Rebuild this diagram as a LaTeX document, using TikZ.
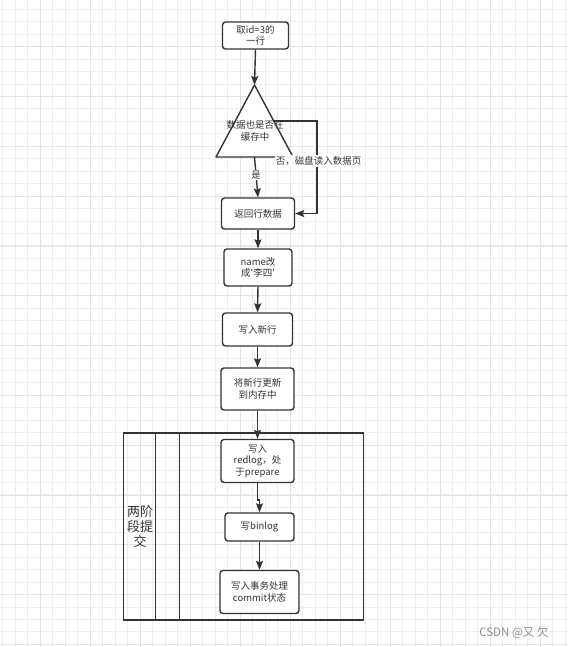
\documentclass[tikz,border=0pt]{standalone}
\usepackage{fontspec}
\setmainfont{Noto Sans CJK SC}
\setsansfont{Noto Sans CJK SC}
\newfontfamily\qfont[Ligatures=TeXOff]{Noto Sans CJK SC}
\usetikzlibrary{arrows.meta}
\definecolor{ink}{HTML}{333333}
\definecolor{gridminor}{HTML}{EEEEEE}
\definecolor{gridmajor}{HTML}{E4E4E4}
\tikzset{
  stepbox/.style={draw=ink, line width=1.4pt, rounded corners=3pt, fill=white, text=ink,
    font=\fontsize{9.5}{11.5}\selectfont, align=center, inner sep=0pt},
  flow/.style={draw=ink, line width=1.4pt, -{Stealth[length=9pt,width=7pt,inset=1.5pt]}},
  lane/.style={draw=ink, line width=1.4pt},
  lbl/.style={fill=white, text=ink, font=\fontsize{9.5}{11.5}\selectfont, inner sep=1pt}
}
\begin{document}
\begin{tikzpicture}[x=1pt,y=-1pt]
\useasboundingbox (0,0) rectangle (568,647);
\fill[white] (0,0) rectangle (568,647);
% grid
\foreach \i in {0,...,45} {
  \pgfmathsetmacro{\xx}{2.7+12.5*\i}
  \draw[gridminor, line width=0.8pt] (\xx,0) -- (\xx,647);
}
\foreach \j in {0,...,51} {
  \pgfmathsetmacro{\yy}{9.3+12.45*\j}
  \draw[gridminor, line width=0.8pt] (0,\yy) -- (568,\yy);
}
\foreach \i in {0,...,11} {
  \pgfmathsetmacro{\xx}{40+50*\i}
  \draw[gridmajor, line width=0.8pt] (\xx,0) -- (\xx,647);
}
\foreach \j in {0,...,12} {
  \pgfmathsetmacro{\yy}{46.7+49.8*\j}
  \draw[gridmajor, line width=0.8pt] (0,\yy) -- (568,\yy);
}

% top box
\node[stepbox, minimum width=66pt, minimum height=27pt] (b1) at (255.5,35.5) {取id=3的\\一行};

% decision triangle
\coordinate (tapex) at (254.5,85);
\coordinate (tleft) at (216,157);
\coordinate (tright) at (293,157);
\coordinate (tbase) at (254.5,157);
\coordinate (tside) at (273.5,121);
\draw[lane, fill=white, line join=round] (tapex) -- (tright) -- (tleft) -- cycle;
\node[text=ink, font=\fontsize{9.5}{11.5}\selectfont, align=center] (tq) at (255,131) {数据也是否在\\缓存中};

% boxes
\node[stepbox, minimum width=73pt, minimum height=31pt] (b3) at (258,213.5) {返回行数据};
\node[stepbox, minimum width=68pt, minimum height=37pt] (b4) at (258,267.5) {name改\\成{\qfont '}李四{\qfont '}};
\node[stepbox, minimum width=70pt, minimum height=33pt] (b5) at (257.5,329.5) {写入新行};
\node[stepbox, minimum width=73pt, minimum height=42pt] (b6) at (257.5,389) {将新行更新\\到内存中};

% container
\draw[lane] (123.5,433) rectangle (363.5,620);
\draw[lane] (155.5,433) -- (155.5,620);
\draw[lane] (179.5,433) -- (179.5,620);
\node[text=ink, font=\fontsize{13}{15}\selectfont, align=center] (two) at (140,527) {两阶\\段提\\交};

\node[stepbox, minimum width=73pt, minimum height=43pt] (b7) at (257.5,461) {写入\\redlog，处\\于prepare};
\node[stepbox, minimum width=69pt, minimum height=28pt] (b8) at (259.5,527) {写binlog};
\node[stepbox, minimum width=79pt, minimum height=43pt] (b9) at (259.5,592) {写入事务处理\\commit状态};

% connectors
\draw[flow] (b1.south) -- (tapex);
\draw[flow] (tbase) -- node[lbl, pos=0.45] (yes) {是} (b3.north);
\draw[flow] (tside) -- (317,121) -- (317,213.5) -- (b3.east);
\node[lbl] (no) at (318.5,161) {否，磁盘读入数据页};
\draw[flow] (b3.south) -- (b4.north);
\draw[flow] (b4.south) -- (b5.north);
\draw[flow] (b5.south) -- (b6.north);
\draw[flow] (b6.south) -- (b7.north);
\coordinate (j78) at (257.5,500);
\draw[flow] (b7.south) -- (j78) -| (b8.north);
\draw[flow] (b8.south) -- (b9.north);

% watermark
\node[text=black!45, font=\fontsize{11.5}{13}\selectfont, anchor=east] (wm) at (552,632.5) {CSDN @又 欠};
\end{tikzpicture}
\end{document}
